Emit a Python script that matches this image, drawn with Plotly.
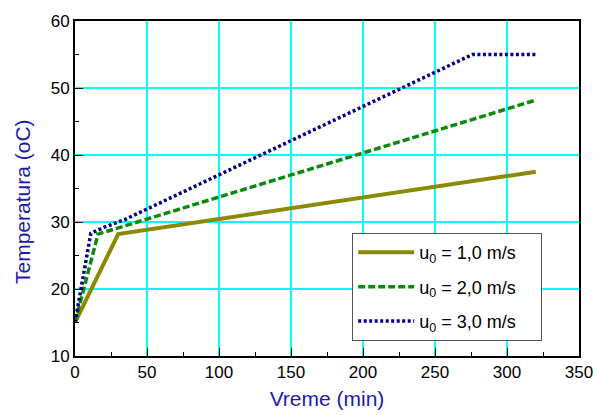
import plotly.graph_objects as go

# Data
t1 = [0, 30, 320]
T1 = [15, 28.2, 37.5]

t2 = [0, 16, 320]
T2 = [15, 28.2, 48.2]

t3 = [0, 11, 20, 35, 276, 320]
T3 = [15, 28.3, 29.2, 30.4, 55, 55]

names = ["u<sub>0</sub> = 1,0 m/s", "u<sub>0</sub> = 2,0 m/s", "u<sub>0</sub> = 3,0 m/s"]
PAD = "\u00a0" * 4

FONT = "Arial, Liberation Sans, sans-serif"
TITLE_COLOR = "#1c1caa"
NOGRID = "rgba(0,0,0,0)"
GRID = "#00ffff"

fig = go.Figure()
fig.add_trace(go.Scatter(x=t1, y=T1, mode="lines", name=names[0] + PAD, legendgroup="a",
                         line=dict(color="#8a8a00", width=4)))
fig.add_trace(go.Scatter(x=t2, y=T2, mode="lines", name=names[1] + PAD, legendgroup="b",
                         line=dict(color="#0a8a0a", width=3.5, dash="7px,3px")))
fig.add_trace(go.Scatter(x=t3, y=T3, mode="lines", name=names[2] + PAD, legendgroup="c",
                         line=dict(color="#00008b", width=3.5, dash="3px,2.5px")))

fig.update_layout(
    width=597, height=415,
    margin=dict(l=75, r=18, t=21, b=59),
    paper_bgcolor="white", plot_bgcolor="white",
    font=dict(family=FONT, size=17, color="black"),
    showlegend=True,
    legend=dict(
        x=0.55, y=0.367, xanchor="left", yanchor="top",
        bgcolor="white", bordercolor="#555555", borderwidth=1,
        font=dict(family=FONT, size=18, color="black"),
        itemwidth=56, tracegroupgap=8,
    ),
    xaxis=dict(
        range=[0, 350], tick0=0, dtick=50,
        showgrid=True, gridcolor=GRID, gridwidth=1.6,
        zeroline=False, automargin=False,
        showline=True, linecolor="black", linewidth=2, mirror=True,
        ticks="inside", ticklen=8, tickcolor="black", tickwidth=1,
        minor=dict(dtick=25, ticks="inside", ticklen=4, tickcolor="black",
                   showgrid=False, gridcolor=NOGRID),
        title=dict(text="Vreme (min)", font=dict(family=FONT, size=21, color=TITLE_COLOR), standoff=10),
        tickfont=dict(size=17),
    ),
    yaxis=dict(
        range=[10, 60], tick0=0, dtick=10,
        showgrid=True, gridcolor=GRID, gridwidth=1.6,
        zeroline=False, automargin=False,
        showline=True, linecolor="black", linewidth=2, mirror=True,
        ticks="inside", ticklen=8, tickcolor="black", tickwidth=1,
        minor=dict(dtick=5, ticks="inside", ticklen=4, tickcolor="black",
                   showgrid=False, gridcolor=NOGRID),
        tickfont=dict(size=17),
    ),
    annotations=[dict(
        text="Temperatura (oC)", xref="paper", yref="paper",
        x=-0.103, y=0.46, xanchor="center", yanchor="middle",
        textangle=-90, showarrow=False,
        font=dict(family=FONT, size=21, color=TITLE_COLOR),
    )],
)

fig.write_html("out.html")
